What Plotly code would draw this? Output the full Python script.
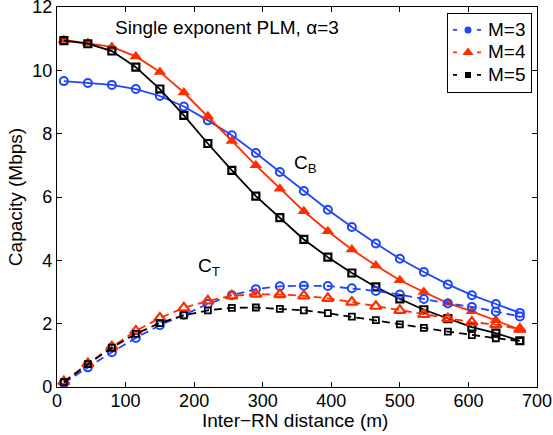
import plotly.graph_objects as go

distance = [10, 45, 80, 115, 150, 185, 220, 255, 290, 325, 360, 395, 430, 465, 500, 535, 570, 605, 640, 675]

cb_m3 = [9.66, 9.60, 9.54, 9.41, 9.19, 8.86, 8.42, 7.95, 7.39, 6.79, 6.19, 5.60, 5.05, 4.53, 4.05, 3.63, 3.24, 2.90, 2.62, 2.34]
cb_m4 = [10.96, 10.86, 10.74, 10.44, 9.95, 9.30, 8.55, 7.77, 7.00, 6.26, 5.55, 4.92, 4.34, 3.84, 3.37, 3.00, 2.65, 2.39, 2.11, 1.81]
cb_m5 = [10.94, 10.84, 10.61, 10.10, 9.41, 8.58, 7.69, 6.84, 6.03, 5.35, 4.66, 4.10, 3.60, 3.16, 2.78, 2.44, 2.16, 1.89, 1.70, 1.46]

ct_m3 = [0.13, 0.62, 1.10, 1.55, 1.95, 2.28, 2.62, 2.90, 3.09, 3.18, 3.20, 3.19, 3.12, 3.03, 2.92, 2.78, 2.64, 2.53, 2.38, 2.23]
ct_m4 = [0.17, 0.74, 1.27, 1.77, 2.18, 2.50, 2.72, 2.88, 2.93, 2.92, 2.88, 2.80, 2.68, 2.55, 2.42, 2.29, 2.16, 2.05, 1.97, 1.83]
ct_m5 = [0.15, 0.72, 1.24, 1.68, 2.02, 2.26, 2.42, 2.50, 2.51, 2.47, 2.42, 2.33, 2.22, 2.11, 1.98, 1.87, 1.75, 1.64, 1.54, 1.45]

legend_labels = ["M=3", "M=4", "M=5"]
x_ticks = [0, 100, 200, 300, 400, 500, 600, 700]
y_ticks = [0, 2, 4, 6, 8, 10, 12]

BLUE = "#1f45ff"
RED = "#ff2d00"
BLACK = "#000000"
FONT = "Liberation Sans, Arial, Helvetica, sans-serif"
DASH = "8px,5px"

fig = go.Figure()

# C_B curves (solid)
fig.add_trace(go.Scatter(x=distance, y=cb_m3, mode="lines+markers", showlegend=False,
                         line=dict(color=BLUE, width=1.8),
                         marker=dict(symbol="circle-open", size=8, color=BLUE, line=dict(width=2))))
fig.add_trace(go.Scatter(x=distance, y=cb_m4, mode="lines+markers", showlegend=False,
                         line=dict(color=RED, width=1.8),
                         marker=dict(symbol="triangle-up", size=11, color=RED)))
fig.add_trace(go.Scatter(x=distance, y=cb_m5, mode="lines+markers", showlegend=False,
                         line=dict(color=BLACK, width=1.8),
                         marker=dict(symbol="square-open", size=7, color=BLACK, line=dict(width=2.2))))

# C_T curves (dashed)
fig.add_trace(go.Scatter(x=distance, y=ct_m3, mode="lines+markers", showlegend=False,
                         line=dict(color=BLUE, width=1.8, dash=DASH),
                         marker=dict(symbol="circle-open", size=8, color=BLUE, line=dict(width=2))))
fig.add_trace(go.Scatter(x=distance, y=ct_m4, mode="lines+markers", showlegend=False,
                         line=dict(color=RED, width=1.8, dash=DASH),
                         marker=dict(symbol="triangle-up-open", size=10, color=RED, line=dict(width=2.2))))
fig.add_trace(go.Scatter(x=distance, y=ct_m5, mode="lines+markers", showlegend=False,
                         line=dict(color=BLACK, width=1.8, dash=DASH),
                         marker=dict(symbol="square-open", size=6, color=BLACK, line=dict(width=1.8))))

# legend entries (legend font size 15 sets row spacing; text itself drawn at 19px)
legend_styles = [
    (BLUE, "circle", 7),
    (RED, "triangle-up", 10),
    (BLACK, "square", 6),
]
for label, (col, sym, sz) in zip(legend_labels, legend_styles):
    fig.add_trace(go.Scatter(x=[None], y=[None], mode="lines+markers",
                             name=f'<span style="font-size:19px">{label}</span>',
                             line=dict(color=col, width=1.8, dash="4px,8px"),
                             marker=dict(symbol=sym, size=sz, color=col)))

axis_common = dict(showline=True, linecolor="black", linewidth=1.3, mirror="ticks",
                   ticks="inside", ticklen=5, tickcolor="black", tickwidth=1,
                   showgrid=False, zeroline=False, ticklabeloverflow="allow",
                   tickfont=dict(family=FONT, size=18, color="black"))

fig.update_xaxes(range=[0, 700], tickvals=x_ticks, ticktext=[str(v) for v in x_ticks],
                 ticklabelstandoff=-3, **axis_common)
fig.update_yaxes(range=[0, 12], tickvals=y_ticks, ticktext=[str(v) for v in y_ticks],
                 title=dict(text="Capacity (Mbps)", font=dict(family=FONT, size=19, color="black"),
                            standoff=4),
                 **axis_common)

# x-axis title
fig.add_annotation(x=0.496, y=-0.088, xref="paper", yref="paper", text="Inter\u2212RN distance (m)",
                   showarrow=False, xanchor="center", yanchor="middle",
                   font=dict(family=FONT, size=19, color="black"))

fig.add_annotation(x=82, y=11.36, xref="x", yref="y", text="Single exponent PLM, \u03b1=3",
                   showarrow=False, xanchor="left", yanchor="middle",
                   font=dict(family=FONT, size=19, color="black"))
fig.add_annotation(x=343, y=7.04, xref="x", yref="y", text="C<sub>B</sub>",
                   showarrow=False, xanchor="left", yanchor="middle",
                   font=dict(family=FONT, size=19, color="black"))
fig.add_annotation(x=203, y=3.78, xref="x", yref="y", text="C<sub>T</sub>",
                   showarrow=False, xanchor="left", yanchor="middle",
                   font=dict(family=FONT, size=19, color="black"))

fig.update_layout(
    width=553, height=435,
    margin=dict(l=57, r=16, t=7, b=48, autoexpand=False),
    paper_bgcolor="white", plot_bgcolor="white",
    font=dict(family=FONT, size=18, color="black"),
    legend=dict(x=0.9896, y=0.985, xanchor="right", yanchor="top",
                bgcolor="white", bordercolor="black", borderwidth=1,
                font=dict(family=FONT, size=15, color="black"),
                itemwidth=30, tracegroupgap=0, itemsizing="trace"),
)

fig.write_html("out.html", config={"displayModeBar": False},
               post_script="document.body.style.margin='0';document.body.style.padding='0';")
